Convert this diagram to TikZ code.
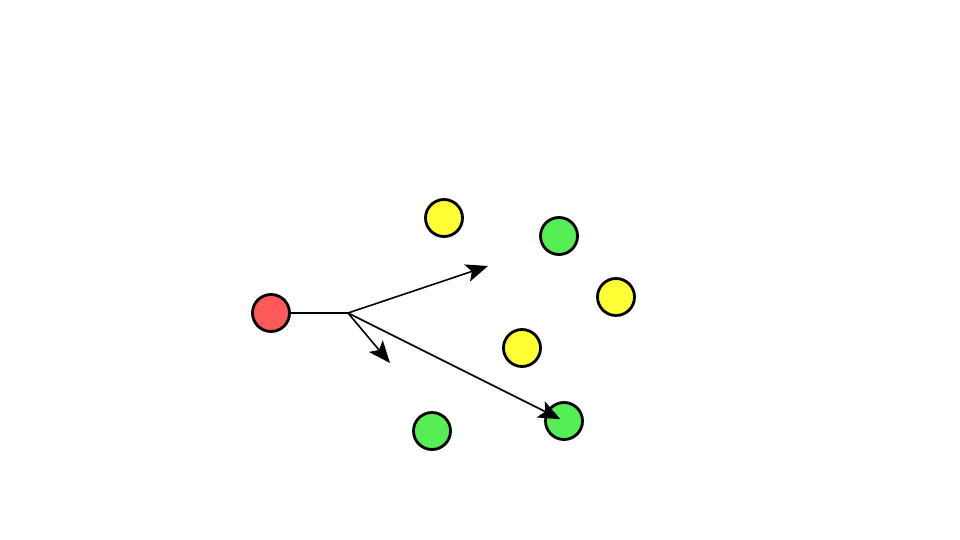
\documentclass[tikz,border=0pt]{standalone}
\usetikzlibrary{arrows.meta}
\definecolor{redfill}{HTML}{FF5A5A}
\definecolor{yellowfill}{HTML}{FFFF33}
\definecolor{greenfill}{HTML}{55EE55}
\tikzset{
  ball/.style={circle, draw=black, line width=2.8pt, minimum size=37pt, inner sep=0pt},
  redball/.style={ball, fill=redfill},
  yellowball/.style={ball, fill=yellowfill},
  greenball/.style={ball, fill=greenfill},
  conn/.style={line width=1.6pt, black},
  arr/.style={conn, -{Stealth[length=22pt,width=18pt,inset=5pt]}}
}
\begin{document}
\begin{tikzpicture}[x=1pt,y=-1pt]
\useasboundingbox (0,0) rectangle (960,540);
\node[redball] (r) at (271,313) {};
\node[yellowball] (y1) at (444,218) {};
\node[greenball] (g1) at (559,236) {};
\node[yellowball] (y2) at (616,297) {};
\node[yellowball] (y3) at (522,348) {};
\node[greenball] (g3) at (432,431) {};
\node[greenball] (g2) at (564,421) {};
\coordinate (b) at (348,313);
\coordinate (e1) at (488,266);
\coordinate (e2) at (390,363);
\draw[conn] (r) -- (b);
\draw[arr] (b) -- (e1);
\draw[arr] (b) -- (e2);
\draw[arr, shorten >=4pt] (b) -- (g2.center);
\end{tikzpicture}
\end{document}
